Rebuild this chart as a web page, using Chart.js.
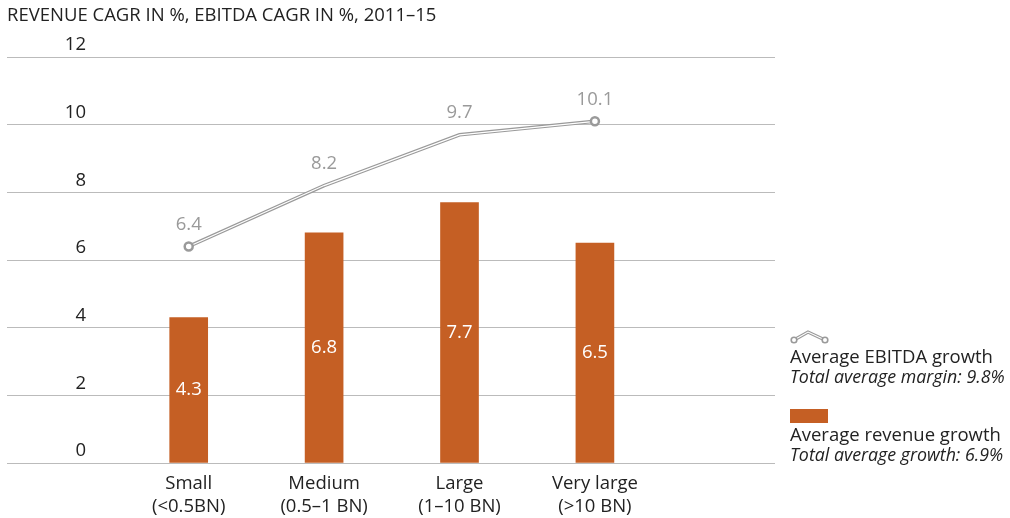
<!DOCTYPE html>
<html>
<head>
<meta charset="utf-8">
<script src="https://cdn.jsdelivr.net/npm/chart.js@4.4.1/dist/chart.umd.min.js"></script>
<style>
  html, body { margin: 0; padding: 0; background: #fff; }
  #wrap { position: relative; width: 1010px; height: 518px; }
  #legend { position: absolute; left: 790px; top: 0; font-family: "Open Sans", sans-serif; font-size: 18.5px; color: #222; line-height: 20px; }
  #legend .item { position: absolute; left: 0; white-space: nowrap; }
  #legend i { font-style: italic; font-size: 17.8px; }
  .swatch { width: 38px; height: 14px; background: #c55f24; margin-bottom: 1px; }
</style>
</head>
<body>
<div id="wrap">
  <canvas id="chart" width="1010" height="518"></canvas>
  <div id="legend">
    <div class="item" style="top:328px">
      <svg width="40" height="16" style="display:block;margin-bottom:2px">
        <polyline points="4,12 18,4 35,12" fill="none" stroke="#9a9a9a" stroke-width="3.2"/>
        <polyline points="4,12 18,4 35,12" fill="none" stroke="#fff" stroke-width="1.1"/>
        <circle cx="4" cy="12" r="2.8" fill="#fff" stroke="#9a9a9a" stroke-width="1.6"/>
        <circle cx="35" cy="12" r="2.8" fill="#fff" stroke="#9a9a9a" stroke-width="1.6"/>
      </svg>
      Average EBITDA growth<br><i>Total average margin: 9.8%</i>
    </div>
    <div class="item" style="top:409px">
      <div class="swatch"></div>
      Average revenue growth<br><i>Total average growth: 6.9%</i>
    </div>
  </div>
</div>
<script>
const categories = [['Small', '(<0.5BN)'], ['Medium', '(0.5–1 BN)'], ['Large', '(1–10 BN)'], ['Very large', '(>10 BN)']];
const revenueGrowth = [4.3, 6.8, 7.7, 6.5];
const ebitdaGrowth = [6.4, 8.2, 9.7, 10.1];
const yTicks = [0, 2, 4, 6, 8, 10, 12];

const FONT = '"Open Sans", sans-serif';
const SIZE = 18.5;
const GREY = '#9a9a9a';

// value labels: white inside bars, grey above the line points
const valueLabels = {
  id: 'valueLabels',
  afterDatasetsDraw(chart) {
    const ctx = chart.ctx;
    ctx.save();
    ctx.font = SIZE + 'px ' + FONT;
    ctx.textAlign = 'center';
    ctx.textBaseline = 'middle';
    chart.data.datasets.forEach((ds, i) => {
      if (!ds.showLabels) return;
      const meta = chart.getDatasetMeta(i);
      meta.data.forEach((el, j) => {
        const v = ds.data[j].y.toFixed(1);
        if (ds.type === 'bar') {
          ctx.fillStyle = '#fff';
          ctx.fillText(v, el.x, (el.y + el.base) / 2);
        } else {
          ctx.fillStyle = GREY;
          ctx.fillText(v, el.x, el.y - 22);
        }
      });
    });
    ctx.restore();
  }
};

const toPoints = arr => arr.map((v, i) => ({ x: i, y: v }));

new Chart(document.getElementById('chart').getContext('2d'), {
  type: 'bar',
  data: {
    datasets: [
      {
        type: 'line',
        label: 'Average EBITDA growth',
        data: toPoints(ebitdaGrowth),
        borderColor: '#fff',
        borderWidth: 1.2,
        pointRadius: [4, 0, 0, 4],
        pointBorderWidth: 2.5,
        pointBorderColor: GREY,
        pointBackgroundColor: '#fff',
        tension: 0,
        order: 0,
        showLabels: true
      },
      {
        type: 'line',
        label: 'EBITDA outline',
        data: toPoints(ebitdaGrowth),
        borderColor: GREY,
        borderWidth: 3.6,
        pointRadius: 0,
        tension: 0,
        order: 1
      },
      {
        type: 'bar',
        label: 'Average revenue growth',
        data: toPoints(revenueGrowth),
        backgroundColor: '#c55f24',
        barThickness: 38,
        order: 2,
        showLabels: true
      }
    ]
  },
  options: {
    responsive: false,
    animation: false,
    events: [],
    layout: { padding: { left: 7, right: 235, top: 0, bottom: 0 } },
    plugins: {
      legend: { display: false },
      tooltip: { enabled: false },
      title: {
        display: true,
        text: 'REVENUE CAGR IN %, EBITDA CAGR IN %, 2011–15',
        align: 'start',
        color: '#222',
        font: { family: FONT, size: SIZE, weight: 'normal', lineHeight: 1.2 },
        padding: { top: 5, bottom: 29.8 }
      }
    },
    scales: {
      x: {
        type: 'linear',
        min: -0.5,
        max: 4.33,
        offset: false,
        grid: { display: false, drawTicks: false },
        border: { display: false },
        afterBuildTicks: axis => { axis.ticks = categories.map((c, i) => ({ value: i })); },
        afterFit: axis => { axis.height = 55; },
        ticks: {
          autoSkip: false,
          maxRotation: 0,
          padding: 10,
          color: '#222',
          font: { family: FONT, size: SIZE, lineHeight: 1.2 },
          callback: v => categories[v] || ''
        }
      },
      y: {
        min: 0,
        max: 12,
        afterBuildTicks: axis => { axis.ticks = yTicks.map(v => ({ value: v })); },
        afterFit: axis => { axis.width = 114; },
        border: { display: false },
        grid: { color: '#bbbbbb', lineWidth: 1, drawTicks: true, tickLength: 114 },
        ticks: {
          padding: -79,
          labelOffset: -12,
          color: '#222',
          font: { family: FONT, size: SIZE }
        }
      }
    }
  },
  plugins: [valueLabels]
});
</script>
</body>
</html>
